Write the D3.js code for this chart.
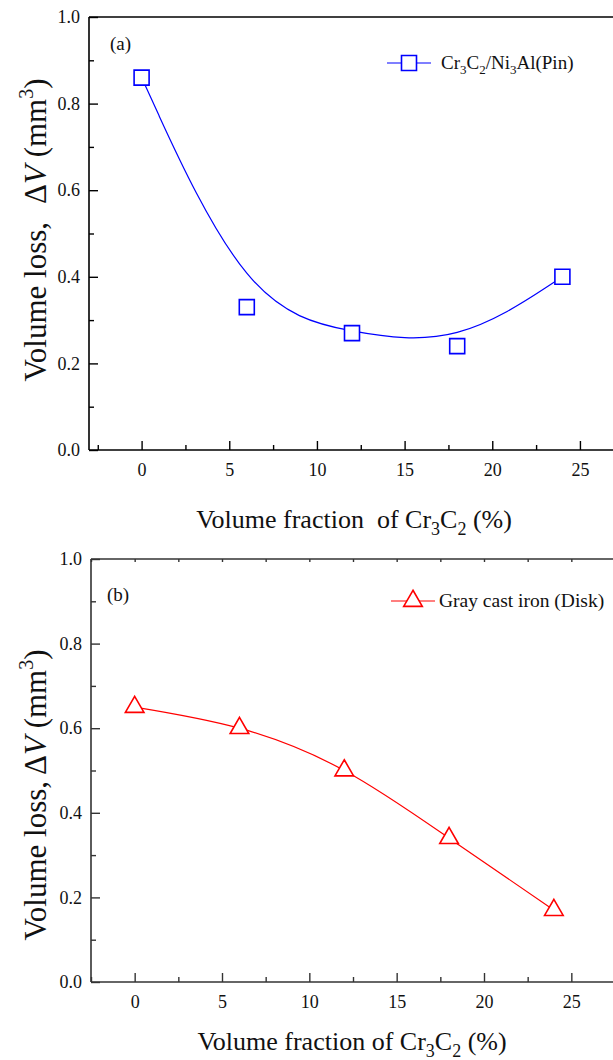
<!DOCTYPE html>
<html>
<head>
<meta charset="utf-8">
<script src="https://cdn.jsdelivr.net/npm/d3@7"></script>
<style>
  body { margin: 0; background: #fff; }
  svg { display: block; font-family: "Liberation Serif", "Times New Roman", serif; }
</style>
</head>
<body>
<div id="chart"></div>
<script>
// data
const fracPin = [0, 6, 12, 18, 24];
const lossPin = [0.86, 0.33, 0.27, 0.24, 0.40];
const fracDisk = [0, 6, 12, 18, 24];
const lossDisk = [0.65, 0.60, 0.50, 0.34, 0.17];

const xMajor = [0, 5, 10, 15, 20, 25];
const xMinor = [-2.5, 2.5, 7.5, 12.5, 17.5, 22.5];
const yMajor = [0, 0.2, 0.4, 0.6, 0.8, 1.0];
const yMinor = [0.1, 0.3, 0.5, 0.7, 0.9];

const W = 613, H = 1060;

const svg = d3.select("#chart").append("svg")
  .attr("width", W)
  .attr("height", H);

function panel(o) {
  const g = svg.append("g");
  const x = d3.scaleLinear().domain(o.xDomain).range([o.left, o.right]);
  const y = d3.scaleLinear().domain([0, 1]).range([o.bottom, o.top]);

  // frame (right side is cut off by the image edge)
  g.append("line").attr("x1", o.left).attr("x2", o.right + 5).attr("y1", o.bottom).attr("y2", o.bottom)
    .attr("stroke", o.axisColor).attr("stroke-width", 1.6);
  g.append("line").attr("x1", o.left).attr("x2", o.right + 5).attr("y1", o.top).attr("y2", o.top)
    .attr("stroke", o.axisColor).attr("stroke-width", 1.6);
  g.append("line").attr("x1", o.left).attr("x2", o.left).attr("y1", o.top).attr("y2", o.bottom)
    .attr("stroke", o.axisColor).attr("stroke-width", 1.6);

  // x axis major + minor
  g.append("g").attr("transform", `translate(0,${o.bottom})`)
    .call(d3.axisBottom(x).tickValues(xMajor).tickSize(-9).tickPadding(13).tickFormat(d3.format("d")));
  g.append("g").attr("transform", `translate(0,${o.bottom})`)
    .call(d3.axisBottom(x).tickValues(xMinor).tickSize(-5).tickFormat(""));
  if (o.topTicks) {
    g.append("g").attr("transform", `translate(0,${o.top})`)
      .call(d3.axisTop(x).tickValues(xMajor.concat(xMinor)).tickSize(-3).tickFormat(""));
  }

  g.append("g").attr("transform", `translate(${o.left},0)`)
    .call(d3.axisLeft(y).tickValues(yMajor).tickSize(-9).tickPadding(9).tickFormat(d3.format(".1f")));
  g.append("g").attr("transform", `translate(${o.left},0)`)
    .call(d3.axisLeft(y).tickValues(yMinor).tickSize(-5).tickFormat(""));

  g.selectAll(".domain").remove();
  g.selectAll(".tick line").attr("stroke", o.axisColor).attr("stroke-width", 1.4);
  g.selectAll(".tick text").attr("font-family", "Liberation Serif").attr("font-size", 18).attr("fill", "#111");

  // curve
  const pts = o.xs.map((v, i) => [v, o.ys[i]]);
  g.append("path").datum(pts)
    .attr("fill", "none").attr("stroke", o.color).attr("stroke-width", 1.2)
    .attr("d", d3.line().x(d => x(d[0])).y(d => y(d[1])).curve(o.curve));

  // markers
  const sym = d3.symbol().type(o.symbol).size(o.symSize);
  g.selectAll("path.mk").data(pts).enter().append("path").attr("class", "mk")
    .attr("transform", d => `translate(${x(d[0])},${y(d[1])})`)
    .attr("d", sym).attr("fill", "#fff").attr("stroke", o.color).attr("stroke-width", 1.6);

  // panel label
  g.append("text").attr("x", o.labX).attr("y", o.labY).attr("font-size", 19).attr("fill", "#111").text(o.label);

  // legend
  g.append("line").attr("x1", o.legX - 22).attr("x2", o.legX + 22).attr("y1", o.legY).attr("y2", o.legY)
    .attr("stroke", o.color).attr("stroke-width", 1.2);
  g.append("path").attr("transform", `translate(${o.legX},${o.legY})`).attr("d", sym)
    .attr("fill", "#fff").attr("stroke", o.color).attr("stroke-width", 1.6);
  const lt = g.append("text").attr("x", o.legX + o.legTextDx).attr("y", o.legY + 6)
    .attr("font-size", o.legSize).attr("fill", "#111");
  o.legendParts.forEach(p => {
    if (p.sub) lt.append("tspan").attr("font-size", 13).attr("dy", 5).text(p.t);
    else lt.append("tspan").attr("dy", p.after ? -5 : 0).text(p.t);
  });

  // x title
  const xt = g.append("text").attr("x", o.xTitleX).attr("y", o.xTitleY).attr("font-size", 26)
    .attr("text-anchor", "middle").attr("fill", "#111");
  xt.append("tspan").text(o.xTitleHead);
  xt.append("tspan").attr("font-size", 18).attr("dy", 7).text("3");
  xt.append("tspan").attr("dy", -7).text("C");
  xt.append("tspan").attr("font-size", 18).attr("dy", 7).text("2");
  xt.append("tspan").attr("dy", -7).text(" (%)");

  // y title
  const yt = g.append("text").attr("transform", `translate(${o.yTitleX},${o.yTitleY}) rotate(-90)`)
    .attr("font-size", 31).attr("text-anchor", "middle").attr("fill", "#111");
  yt.append("tspan").text("Volume loss,");
  yt.append("tspan").attr("dx", o.yGap).text("\u0394");
  yt.append("tspan").attr("font-style", "italic").text("V");
  yt.append("tspan").text(" (mm");
  yt.append("tspan").attr("font-size", 20).attr("dy", -13).text("3");
  yt.append("tspan").attr("dy", 13).text(")");
}

panel({
  xDomain: [-3, 27], left: 89, right: 615, top: 17, bottom: 450,
  axisColor: "#000", topTicks: false,
  xs: fracPin, ys: lossPin, color: "#0000ff",
  curve: d3.curveBasis, symbol: d3.symbolSquare, symSize: 225,
  label: "(a)", labX: 110, labY: 50,
  legX: 409, legY: 63, legTextDx: 32, legSize: 19,
  legendParts: [{t: "Cr"}, {t: "3", sub: true}, {t: "C", after: true}, {t: "2", sub: true},
                {t: "/Ni", after: true}, {t: "3", sub: true}, {t: "Al(Pin)", after: true}],
  xTitleHead: "Volume fraction \u00a0of Cr", xTitleX: 354, xTitleY: 528,
  yTitleX: 46, yTitleY: 230, yGap: 18
});

panel({
  xDomain: [-2.5, 27.5], left: 91, right: 615, top: 559, bottom: 982,
  axisColor: "#333", topTicks: true,
  xs: fracDisk, ys: lossDisk, color: "#ff0000",
  curve: d3.curveNatural, symbol: d3.symbolTriangle, symSize: 150,
  label: "(b)", labX: 107, labY: 601,
  legX: 413, legY: 601, legTextDx: 26, legSize: 19.5,
  legendParts: [{t: "Gray cast iron (Disk)"}],
  xTitleHead: "Volume fraction of Cr", xTitleX: 352, xTitleY: 1050,
  yTitleX: 46, yTitleY: 795, yGap: 6
});
</script>
</body>
</html>
